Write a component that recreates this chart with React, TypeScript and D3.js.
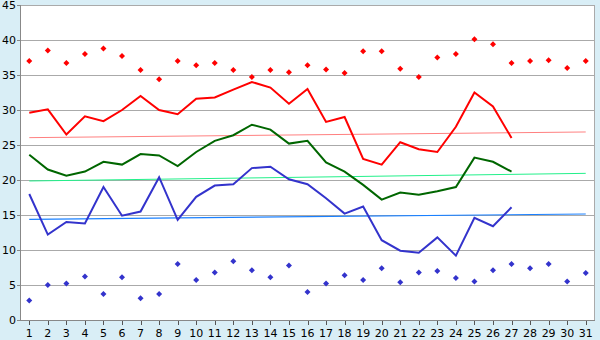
import React from 'react';
import * as d3 from 'd3';

const days = d3.range(1, 32).map(String);
const yTicks = [0, 5, 10, 15, 20, 25, 30, 35, 40, 45];

const recordHigh = [37.0, 38.5, 36.7, 38.0, 38.8, 37.7, 35.7, 34.4, 37.0, 36.4,
  36.7, 35.7, 34.7, 35.7, 35.4, 36.4, 35.8, 35.3, 38.4, 38.4,
  35.9, 34.7, 37.5, 38.0, 40.1, 39.4, 36.7, 37.0, 37.1, 36.0, 37.0];
const recordLow = [2.8, 5.0, 5.2, 6.2, 3.7, 6.1, 3.1, 3.7, 8.0, 5.7,
  6.8, 8.4, 7.1, 6.1, 7.8, 4.0, 5.2, 6.4, 5.7, 7.4,
  5.4, 6.8, 7.0, 6.0, 5.5, 7.1, 8.0, 7.4, 8.0, 5.5, 6.7];
const maxTemp = [29.6, 30.1, 26.5, 29.1, 28.4, 30.0, 32.0, 30.0, 29.4, 31.6,
  31.8, 32.9, 34.0, 33.2, 30.9, 33.0, 28.3, 29.0, 23.0, 22.2,
  25.4, 24.4, 24.0, 27.6, 32.5, 30.5, 26.0];
const meanTemp = [23.6, 21.5, 20.6, 21.2, 22.6, 22.2, 23.7, 23.5, 22.0, 24.0,
  25.6, 26.4, 27.9, 27.2, 25.2, 25.6, 22.5, 21.2, 19.3, 17.2,
  18.2, 17.9, 18.4, 19.0, 23.2, 22.6, 21.2];
const minTemp = [18.0, 12.2, 14.0, 13.8, 19.0, 14.9, 15.5, 20.4, 14.3, 17.6,
  19.2, 19.4, 21.7, 21.9, 20.1, 19.4, 17.4, 15.2, 16.2, 11.4,
  9.9, 9.6, 11.8, 9.2, 14.6, 13.4, 16.1];
// trend lines: value at day 1 and day 31
const trendDays = ['1', '31'];
const trendHigh = [26.05, 26.86];
const trendMean = [19.86, 20.95];
const trendLow = [14.38, 15.14];

const W = 600;
const H = 340;
const plot = { left: 20, right: 595, top: 5, bottom: 320 };
const font = 'Verdana, "DejaVu Sans", sans-serif';

export default function App() {
  const x = d3.scalePoint<string>().domain(days).range([plot.left, plot.right]).padding(0.5);
  const y = d3.scaleLinear().domain([0, 45]).range([plot.bottom, plot.top]);

  const line = d3.line<number>()
    .x((_, i) => x(days[i]) as number)
    .y(d => y(d));
  const trend = d3.line<number>()
    .x((_, i) => x(trendDays[i]) as number)
    .y(d => y(d));

  const diamond = (cx: number, cy: number) =>
    `M${cx},${cy - 3}L${cx + 3},${cy}L${cx},${cy + 3}L${cx - 3},${cy}Z`;

  return (
    <svg width={W} height={H} style={{ position: 'absolute', left: 0, top: 0, display: 'block' }}>
      <rect width={W} height={H} fill="#d9eef6" />
      <rect x={plot.left} y={plot.top} width={plot.right - plot.left} height={plot.bottom - plot.top}
        fill="#fff" />

      {yTicks.map(t => (
        <g key={t}>
          {t > 0 && t < 45 && (
            <line x1={plot.left} x2={plot.right} y1={y(t) + 0.5} y2={y(t) + 0.5} stroke="#aaa" />
          )}
          <line x1={plot.left - 3} x2={plot.left} y1={y(t) + 0.5} y2={y(t) + 0.5} stroke="#888" />
          <text x={plot.left - 4} y={y(t)} dy="0.35em" textAnchor="end"
            fontFamily={font} fontSize={11} fill="#000">{t}</text>
        </g>
      ))}

      {days.map(d => (
        <g key={d}>
          <line x1={Math.round(x(d) as number) + 0.5} x2={Math.round(x(d) as number) + 0.5}
            y1={plot.bottom} y2={plot.bottom + 5} stroke="#555" />
          <text x={x(d)} y={337} textAnchor="middle" fontFamily={font} fontSize={11} fill="#000">{d}</text>
        </g>
      ))}

      <rect x={plot.left + 0.5} y={plot.top + 0.5} width={plot.right - plot.left - 1}
        height={plot.bottom - plot.top} fill="none" stroke="#aaa" />
      <line x1={plot.left + 0.5} x2={plot.left + 0.5} y1={plot.top} y2={plot.bottom} stroke="#888" />
      <line x1={plot.left} x2={plot.right} y1={plot.bottom + 0.5} y2={plot.bottom + 0.5} stroke="#888" />

      <path d={trend(trendHigh) ?? ''} fill="none" stroke="#ff8080" strokeWidth={1} />
      <path d={trend(trendMean) ?? ''} fill="none" stroke="#22f08a" strokeWidth={1} />
      <path d={trend(trendLow) ?? ''} fill="none" stroke="#1a80ff" strokeWidth={1.2} />

      <path d={line(maxTemp) ?? ''} fill="none" stroke="#ff0000" strokeWidth={2} />
      <path d={line(meanTemp) ?? ''} fill="none" stroke="#006600" strokeWidth={2} />
      <path d={line(minTemp) ?? ''} fill="none" stroke="#3333cc" strokeWidth={2} />

      {recordHigh.map((v, i) => (
        <path key={'h' + i} d={diamond(x(days[i]) as number, y(v))} fill="#ff0000" />
      ))}
      {recordLow.map((v, i) => (
        <path key={'l' + i} d={diamond(x(days[i]) as number, y(v))} fill="#3333cc" />
      ))}
    </svg>
  );
}
